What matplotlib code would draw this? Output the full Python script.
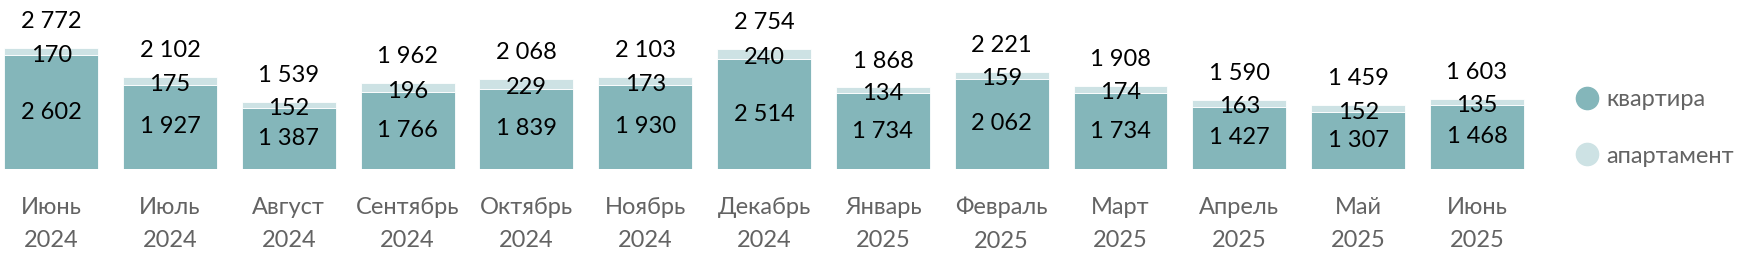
import matplotlib
matplotlib.use('Agg')
import matplotlib.pyplot as plt
from matplotlib.lines import Line2D

plt.rcParams['font.family'] = ['Lato', 'DejaVu Sans']

months = ['Июнь\n2024', 'Июль\n2024', 'Август\n2024', 'Сентябрь\n2024', 'Октябрь\n2024',
          'Ноябрь\n2024', 'Декабрь\n2024', 'Январь\n2025', 'Февраль\n2025', 'Март\n2025',
          'Апрель\n2025', 'Май\n2025', 'Июнь\n2025']
kvartira = [2602, 1927, 1387, 1766, 1839, 1930, 2514, 1734, 2062, 1734, 1427, 1307, 1468]
apartment = [170, 175, 152, 196, 229, 173, 240, 134, 159, 174, 163, 152, 135]

c_kv = '#84B6BA'
c_ap = '#CDE2E4'
c_txt = '#636363'
FS = 17


def fmt(v):
    return f'{v:,}'.replace(',', ' ')


fig = plt.figure(figsize=(17.4, 2.56), dpi=100)
ax = fig.add_axes([0, 0.34, 1540 / 1740, 0.66])

x = list(range(len(months)))
ax.bar(x, kvartira, width=0.79, color=c_kv, edgecolor='white', linewidth=0.6)
ax.bar(x, apartment, width=0.79, bottom=kvartira, color=c_ap, edgecolor='white', linewidth=0.6)

for i, (k, a) in enumerate(zip(kvartira, apartment)):
    ax.text(i, k / 2, fmt(k), ha='center', va='center', fontsize=FS, color='black')
    ax.annotate(fmt(a), (i, k + a / 2), xytext=(0, -2.5), textcoords='offset points',
                ha='center', va='center', fontsize=FS, color='black')
    ax.annotate(fmt(k + a), (i, k + a), xytext=(0, 19), textcoords='offset points',
                ha='center', va='center', fontsize=FS, color='black')

ax.set_xlim(-0.43, 12.53)
ax.set_ylim(0, 3872)
ax.set_xticks(x)
ax.set_xticklabels(months, fontsize=FS, color=c_txt, linespacing=1.75)
ax.tick_params(axis='x', length=0, pad=20)
ax.set_yticks([])
for s in ax.spines.values():
    s.set_visible(False)

handles = [Line2D([], [], marker='o', linestyle='', markersize=16, color=c_kv, label='квартира'),
           Line2D([], [], marker='o', linestyle='', markersize=16, color=c_ap, label='апартамент')]
fig.legend(handles=handles, loc='center left', bbox_to_anchor=(1566 / 1740, 0.5),
           frameon=False, fontsize=FS, labelcolor=c_txt, handletextpad=0.3,
           labelspacing=1.5, handlelength=1.0, borderaxespad=0)

fig.savefig('out.png', dpi=100)
